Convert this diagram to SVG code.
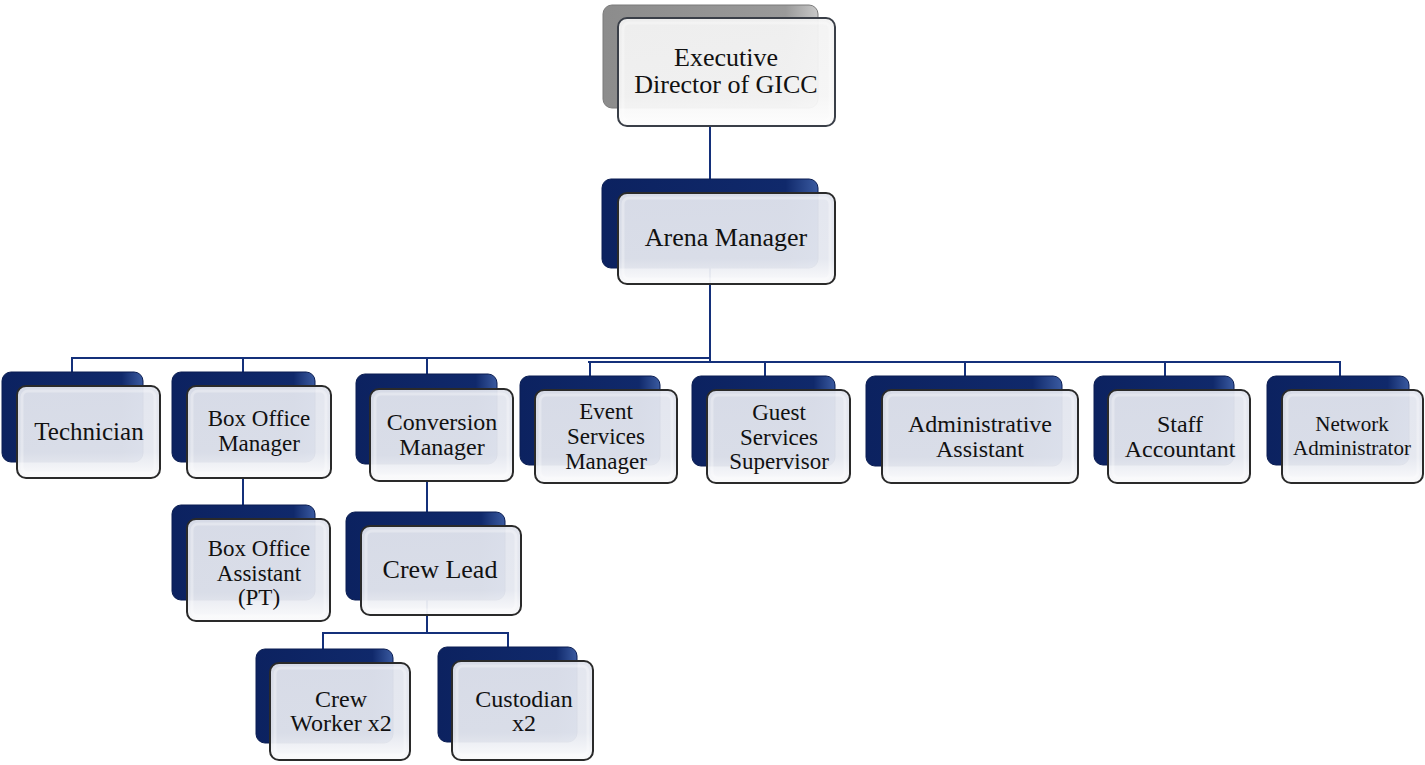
<svg xmlns="http://www.w3.org/2000/svg" width="1425" height="765" viewBox="0 0 1425 765">
<defs>
<linearGradient id="navy" x1="0" y1="0" x2="1" y2="0">
<stop offset="0" stop-color="#0c2260"/>
<stop offset="0.85" stop-color="#10296b"/>
<stop offset="1" stop-color="#3a5aa0"/>
</linearGradient>
<linearGradient id="gray" x1="0" y1="0" x2="1" y2="0">
<stop offset="0" stop-color="#8c8c8c"/>
<stop offset="0.85" stop-color="#9a9a9a"/>
<stop offset="1" stop-color="#c8c8c8"/>
</linearGradient>
<linearGradient id="face" x1="0" y1="0" x2="0" y2="1">
<stop offset="0" stop-color="#e2e5ee"/>
<stop offset="0.72" stop-color="#e4e7ef"/>
<stop offset="1" stop-color="#fbfbfc"/>
</linearGradient>
<linearGradient id="faceW" x1="0" y1="0" x2="0" y2="1">
<stop offset="0" stop-color="#f3f3f3"/>
<stop offset="0.72" stop-color="#f5f5f5"/>
<stop offset="1" stop-color="#fdfdfd"/>
</linearGradient>
</defs>
<style>
.back{fill:url(#navy);stroke:#0a1d52;stroke-width:1}
.backG{fill:url(#gray);stroke:#7a7a7a;stroke-width:1}
.front{fill:url(#face);fill-opacity:0.95;stroke:#2a2a2a;stroke-width:2}
.frontW{fill:url(#faceW);fill-opacity:0.95;stroke:#3a3f48;stroke-width:2}
.bevel{fill:none;stroke:#ffffff;stroke-opacity:0.3;stroke-width:3}
.t{font-family:"Liberation Serif","Times New Roman",serif;fill:#111;text-anchor:middle;font-size:24px}
.c{fill:none;stroke:#14307a;stroke-width:2}
</style>
<g id="connectors">
<path class="c" d="M710,126 V362"/>
<path class="c" d="M72,372 V358 H710"/>
<path class="c" d="M243,358 V372"/>
<path class="c" d="M427,358 V374"/>
<path class="c" d="M588,362 H1340 V376"/>
<path class="c" d="M590,362 V376"/>
<path class="c" d="M765,362 V376"/>
<path class="c" d="M965,362 V376"/>
<path class="c" d="M1165,362 V376"/>
<path class="c" d="M243,478 V505"/>
<path class="c" d="M427,481 V633"/>
<path class="c" d="M323,649 V633 H508 V647"/>
</g>
<g id="n-exec">
<rect class="backG" x="603" y="5" width="215" height="103" rx="9"/>
<rect class="frontW" x="618" y="18" width="217" height="108" rx="9"/>
<rect class="bevel" x="623" y="23" width="207" height="98" rx="6"/>
<text class="t" x="726" y="66" style="font-size:26px">Executive</text>
<text class="t" x="726" y="93" style="font-size:26px">Director of GICC</text>
</g>
<g id="n-arena">
<rect class="back" x="602" y="179" width="216" height="89" rx="9"/>
<rect class="front" x="618" y="193" width="217" height="91" rx="9"/>
<rect class="bevel" x="623" y="198" width="207" height="81" rx="6"/>
<text class="t" x="726" y="246" style="font-size:26px">Arena Manager</text>
</g>
<g id="n-tech">
<rect class="back" x="2" y="372" width="141" height="90" rx="9"/>
<rect class="front" x="17" y="386" width="143" height="92" rx="9"/>
<rect class="bevel" x="22" y="391" width="133" height="82" rx="6"/>
<text class="t" x="89" y="440" style="font-size:25px">Technician</text>
</g>
<g id="n-bom">
<rect class="back" x="172" y="372" width="143" height="90" rx="9"/>
<rect class="front" x="187" y="386" width="144" height="92" rx="9"/>
<rect class="bevel" x="192" y="391" width="134" height="82" rx="6"/>
<text class="t" x="259" y="426" style="font-size:23px">Box Office</text>
<text class="t" x="259" y="451" style="font-size:23px">Manager</text>
</g>
<g id="n-conv">
<rect class="back" x="356" y="374" width="141" height="90" rx="9"/>
<rect class="front" x="370" y="389" width="143" height="92" rx="9"/>
<rect class="bevel" x="375" y="394" width="133" height="82" rx="6"/>
<text class="t" x="442" y="430">Conversion</text>
<text class="t" x="442" y="455">Manager</text>
</g>
<g id="n-esm">
<rect class="back" x="520" y="376" width="140" height="89" rx="9"/>
<rect class="front" x="535" y="390" width="142" height="93" rx="9"/>
<rect class="bevel" x="540" y="395" width="132" height="83" rx="6"/>
<text class="t" x="606" y="419" style="font-size:23px">Event</text>
<text class="t" x="606" y="444" style="font-size:23px">Services</text>
<text class="t" x="606" y="469" style="font-size:23px">Manager</text>
</g>
<g id="n-gss">
<rect class="back" x="692" y="376" width="143" height="90" rx="9"/>
<rect class="front" x="707" y="390" width="143" height="93" rx="9"/>
<rect class="bevel" x="712" y="395" width="133" height="83" rx="6"/>
<text class="t" x="779" y="420" style="font-size:23px">Guest</text>
<text class="t" x="779" y="445" style="font-size:23px">Services</text>
<text class="t" x="779" y="469" style="font-size:23px">Supervisor</text>
</g>
<g id="n-aa">
<rect class="back" x="866" y="376" width="196" height="90" rx="9"/>
<rect class="front" x="882" y="390" width="196" height="93" rx="9"/>
<rect class="bevel" x="887" y="395" width="186" height="83" rx="6"/>
<text class="t" x="980" y="432">Administrative</text>
<text class="t" x="980" y="457">Assistant</text>
</g>
<g id="n-sa">
<rect class="back" x="1094" y="376" width="140" height="89" rx="9"/>
<rect class="front" x="1108" y="390" width="142" height="93" rx="9"/>
<rect class="bevel" x="1113" y="395" width="132" height="83" rx="6"/>
<text class="t" x="1180" y="432">Staff</text>
<text class="t" x="1180" y="457">Accountant</text>
</g>
<g id="n-na">
<rect class="back" x="1267" y="376" width="142" height="89" rx="9"/>
<rect class="front" x="1282" y="390" width="141" height="93" rx="9"/>
<rect class="bevel" x="1287" y="395" width="131" height="83" rx="6"/>
<text class="t" x="1352" y="431" style="font-size:21px">Network</text>
<text class="t" x="1352" y="455" style="font-size:21px">Administrator</text>
</g>
<g id="n-boa">
<rect class="back" x="172" y="505" width="143" height="95" rx="9"/>
<rect class="front" x="187" y="519" width="143" height="102" rx="9"/>
<rect class="bevel" x="192" y="524" width="133" height="92" rx="6"/>
<text class="t" x="259" y="556" style="font-size:23px">Box Office</text>
<text class="t" x="259" y="581" style="font-size:23px">Assistant</text>
<text class="t" x="259" y="605" style="font-size:23px">(PT)</text>
</g>
<g id="n-cl">
<rect class="back" x="346" y="512" width="159" height="88" rx="9"/>
<rect class="front" x="361" y="526" width="160" height="89" rx="9"/>
<rect class="bevel" x="366" y="531" width="150" height="79" rx="6"/>
<text class="t" x="440" y="578" style="font-size:26px">Crew Lead</text>
</g>
<g id="n-cw">
<rect class="back" x="256" y="649" width="137" height="94" rx="9"/>
<rect class="front" x="270" y="663" width="140" height="97" rx="9"/>
<rect class="bevel" x="275" y="668" width="130" height="87" rx="6"/>
<text class="t" x="341" y="707">Crew</text>
<text class="t" x="341" y="731">Worker x2</text>
</g>
<g id="n-cust">
<rect class="back" x="438" y="647" width="139" height="95" rx="9"/>
<rect class="front" x="452" y="661" width="141" height="99" rx="9"/>
<rect class="bevel" x="457" y="666" width="131" height="89" rx="6"/>
<text class="t" x="524" y="707">Custodian</text>
<text class="t" x="524" y="731">x2</text>
</g>
</svg>
